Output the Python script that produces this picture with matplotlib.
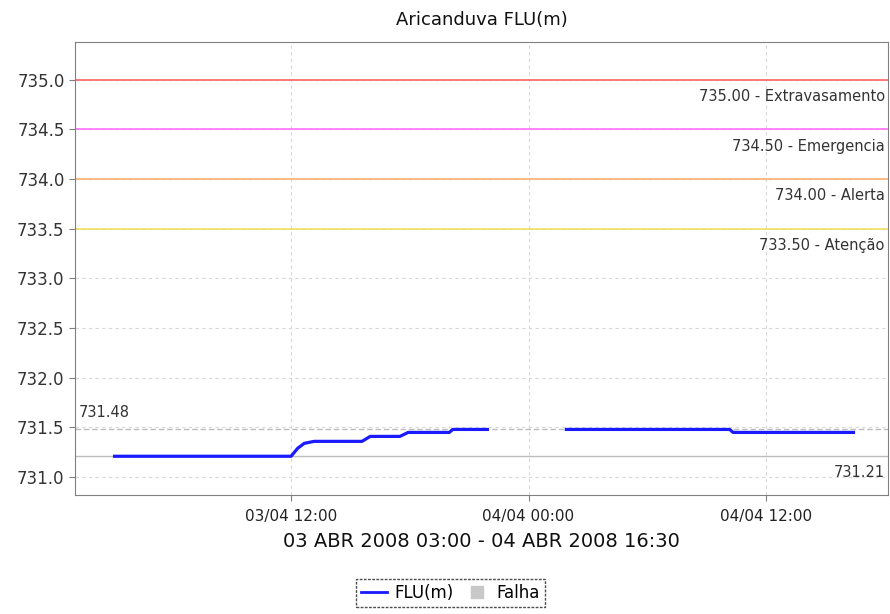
import matplotlib
matplotlib.use("Agg")
import matplotlib.pyplot as plt
import matplotlib.dates as mdates
import numpy as np
from datetime import datetime

# ---- data ----
times = ["2008-04-03 03:00", "2008-04-03 12:00", "2008-04-03 12:20", "2008-04-03 12:40",
         "2008-04-03 13:10", "2008-04-03 15:35", "2008-04-03 16:00", "2008-04-03 17:30",
         "2008-04-03 17:55", "2008-04-03 20:00", "2008-04-03 20:10", "2008-04-03 22:00",
         "2008-04-03 22:10",
         "2008-04-04 01:50", "2008-04-04 02:20", "2008-04-04 10:10", "2008-04-04 10:20",
         "2008-04-04 16:30"]
levels = [731.21, 731.21, 731.29, 731.34,
          731.36, 731.36, 731.41, 731.41,
          731.45, 731.45, 731.48, 731.48,
          np.nan,
          731.48, 731.48, 731.48, 731.45,
          731.45]
thresholds = [735.00, 734.50, 734.00, 733.50]
threshold_names = ["Extravasamento", "Emergencia", "Alerta", "Atenção"]
threshold_colors = ["#ff6464", "#ff70ff", "#ffb070", "#f2e060"]
max_level = 731.48
min_level = 731.21
yticks = [731.0, 731.5, 732.0, 732.5, 733.0, 733.5, 734.0, 734.5, 735.0]
xticks = ["2008-04-03 12:00", "2008-04-04 00:00", "2008-04-04 12:00"]
title = "Aricanduva FLU(m)"
xlabel = "03 ABR 2008 03:00 - 04 ABR 2008 16:30"

t = [datetime.strptime(s, "%Y-%m-%d %H:%M") for s in times]
xt = [datetime.strptime(s, "%Y-%m-%d %H:%M") for s in xticks]

fig = plt.figure(figsize=(8.9, 6.14), dpi=100)
ax = fig.add_axes([0.0843, 0.1938, 0.9135, 0.7378])

ax.set_xlim(datetime(2008, 4, 3, 1, 5), datetime(2008, 4, 4, 18, 10))
ax.set_ylim(730.82, 735.38)

# grid
ax.set_yticks(yticks)
ax.set_xticks(xt)
ax.xaxis.set_major_formatter(mdates.DateFormatter("%d/%m %H:%M"))
ax.grid(True, color="#d8d8d8", linestyle=(0, (3, 3)), linewidth=0.8)
ax.set_axisbelow(True)

# threshold lines
for v, name, c in zip(thresholds, threshold_names, threshold_colors):
    ax.axhline(v, color=c, linewidth=1.2, zorder=2)
    ax.text(0.996, v - 0.17, f"{v:.2f} - {name}", transform=ax.get_yaxis_transform(),
            ha="right", va="center", fontsize=10.5, color="#333333")

# max/min lines
ax.axhline(max_level, color="#bcbcbc", linewidth=1.0, linestyle=(0, (4, 2)), zorder=2)
ax.axhline(min_level, color="#bcbcbc", linewidth=1.0, zorder=2)
ax.text(0.004, max_level + 0.09, f"{max_level:.2f}", transform=ax.get_yaxis_transform(),
        ha="left", va="bottom", fontsize=10.5, color="#333333")
ax.text(0.996, min_level - 0.09, f"{min_level:.2f}", transform=ax.get_yaxis_transform(),
        ha="right", va="top", fontsize=10.5, color="#333333")

# series
line, = ax.plot(t, levels, color="#1a1aff", linewidth=2.3, zorder=4, solid_capstyle="butt")

# spines & ticks
for s in ax.spines.values():
    s.set_color("#808080")
ax.tick_params(axis="both", colors="#808080", length=4, labelcolor="#222222")
ax.tick_params(axis="y", labelsize=12)
ax.tick_params(axis="x", labelsize=11, pad=6)
for lab in ax.get_yticklabels():
    lab.set_color("#333333")

ax.set_title(title, fontsize=13, color="#111111", pad=12)
ax.set_xlabel(xlabel, fontsize=14, color="#111111", labelpad=6)

# legend
from matplotlib.lines import Line2D
handles = [Line2D([0], [0], color="#1a1aff", linewidth=2),
           Line2D([0], [0], color="none", marker="s", markersize=8,
                  markerfacecolor="#c8c8c8", markeredgecolor="#c8c8c8")]
leg = fig.legend(handles, ["FLU(m)", "Falha"], loc="center", bbox_to_anchor=(0.506, 0.034),
                 ncol=2, fontsize=12, frameon=True, fancybox=False, handlelength=1.6,
                 handletextpad=0.4, columnspacing=0.6, borderpad=0.3)
frame = leg.get_frame()
frame.set_edgecolor("#222222")
frame.set_linestyle((0, (2, 1)))
frame.set_linewidth(1.0)

fig.savefig("out.png", dpi=100)
